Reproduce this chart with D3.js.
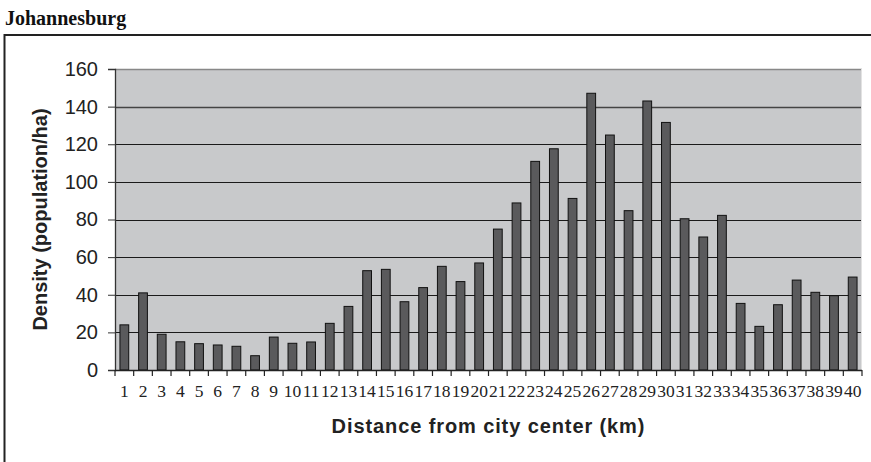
<!DOCTYPE html>
<html>
<head>
<meta charset="utf-8">
<script src="https://cdn.jsdelivr.net/npm/d3@7"></script>
<style>
  html, body { margin: 0; padding: 0; background: #fff; }
  svg { display: block; }
</style>
</head>
<body>
<svg id="chart" width="871" height="462"></svg>
<script>
const chartTitle = "Johannesburg";
const xTitle = "Distance from city center (km)";
const yTitle = "Density (population/ha)";
const categories = d3.range(1, 41).map(String);
const density = [24, 41, 19, 15, 14, 13.3, 12.6, 7.6, 17.5, 14.2,
                 14.9, 24.8, 33.8, 52.8, 53.5, 36.3, 43.8, 55.1, 47, 56.9,
                 74.9, 88.8, 110.9, 117.6, 91.2, 147.1, 124.9, 84.7, 143, 131.6,
                 80.4, 70.7, 82.2, 35.4, 23.2, 34.7, 47.8, 41.3, 39.5, 49.4];
const yTicks = [0, 20, 40, 60, 80, 100, 120, 140, 160];

const svg = d3.select("#chart");
const W = 871, H = 462;
const plot = { left: 115, right: 862, top: 69, bottom: 370 };

// outer frame (only top and left edges visible)
svg.append("line").attr("x1", 4.5).attr("x2", W).attr("y1", 35).attr("y2", 35)
  .attr("stroke", "#222").attr("stroke-width", 2);
svg.append("line").attr("x1", 4.5).attr("x2", 4.5).attr("y1", 34).attr("y2", H)
  .attr("stroke", "#222").attr("stroke-width", 2);

// chart title
svg.append("text").attr("x", 5).attr("y", 25)
  .attr("font-family", "'Liberation Serif', 'Times New Roman', serif")
  .attr("font-weight", "bold").attr("font-size", 20).attr("fill", "#111")
  .text(chartTitle);

const x = d3.scaleBand().domain(categories).range([plot.left, plot.right]).paddingInner(0.53).paddingOuter(0.265);
const xb = d3.scaleBand().domain(categories).range([plot.left, plot.right]);
const y = d3.scaleLinear().domain([0, 160]).range([plot.bottom, plot.top]);

// plot background
svg.append("rect").attr("x", plot.left).attr("y", plot.top)
  .attr("width", plot.right - plot.left).attr("height", plot.bottom - plot.top)
  .attr("fill", "#c8c9cb");

// gridlines
svg.append("g").selectAll("line").data(yTicks.filter(t => t > 0 && t < 160)).join("line")
  .attr("x1", plot.left).attr("x2", plot.right)
  .attr("y1", d => Math.round(y(d)) + 0.5).attr("y2", d => Math.round(y(d)) + 0.5)
  .attr("stroke", d => d === 140 ? "#444" : "#1a1a1a").attr("stroke-width", d => d === 140 ? 1.3 : 1);

// top and right plot borders
svg.append("line").attr("x1", plot.left).attr("x2", plot.right)
  .attr("y1", plot.top + 0.5).attr("y2", plot.top + 0.5).attr("stroke", "#888").attr("stroke-width", 1.5);
svg.append("line").attr("x1", plot.right - 0.5).attr("x2", plot.right - 0.5)
  .attr("y1", plot.top).attr("y2", plot.bottom).attr("stroke", "#e2e2e2").attr("stroke-width", 1);

// bars
svg.append("g").selectAll("rect").data(density).join("rect")
  .attr("x", (d, i) => x(categories[i]))
  .attr("width", x.bandwidth())
  .attr("y", d => y(d))
  .attr("height", d => y(0) - y(d))
  .attr("fill", "#5a5a5c")
  .attr("stroke", "#111").attr("stroke-width", 1);

// y axis
const yAxis = d3.axisLeft(y).tickValues(yTicks).tickSize(7).tickPadding(10).tickFormat(d3.format("d"));
const gy = svg.append("g").attr("transform", `translate(${plot.left},0)`).call(yAxis);
gy.select(".domain").attr("stroke", "#333").attr("stroke-width", 1.3);
gy.selectAll(".tick line").attr("stroke", "#333");
gy.selectAll(".tick text")
  .attr("font-family", "'Liberation Sans', Arial, sans-serif")
  .attr("font-size", 20).attr("fill", "#222");

// x axis
const gx = svg.append("g").attr("transform", `translate(0,${plot.bottom})`);
gx.append("line").attr("x1", plot.left).attr("x2", plot.right).attr("y1", 0.5).attr("y2", 0.5)
  .attr("stroke", "#222").attr("stroke-width", 1.3);
const boundaries = categories.map(c => xb(c)).concat([plot.right]);
gx.selectAll("line.tk").data(boundaries).join("line").attr("class", "tk")
  .attr("x1", d => d).attr("x2", d => d).attr("y1", 0).attr("y2", 6)
  .attr("stroke", "#222").attr("stroke-width", 1.2);
gx.selectAll("text").data(categories).join("text")
  .attr("x", d => xb(d) + xb.bandwidth() / 2)
  .attr("y", 27)
  .attr("text-anchor", "middle")
  .attr("font-family", "'Liberation Serif', 'Times New Roman', serif")
  .attr("font-size", 17.5).attr("fill", "#222")
  .text(d => d);

// axis titles
svg.append("text")
  .attr("x", (plot.left + plot.right) / 2).attr("y", 433)
  .attr("text-anchor", "middle")
  .attr("font-family", "'Liberation Sans', Arial, sans-serif")
  .attr("font-weight", "bold").attr("font-size", 20).attr("letter-spacing", 0.9)
  .attr("fill", "#222")
  .text(xTitle);

svg.append("text")
  .attr("transform", `translate(47,${(plot.top + plot.bottom) / 2}) rotate(-90)`)
  .attr("text-anchor", "middle")
  .attr("font-family", "'Liberation Sans', Arial, sans-serif")
  .attr("font-weight", "bold").attr("font-size", 20)
  .attr("fill", "#222")
  .text(yTitle);
</script>
</body>
</html>
